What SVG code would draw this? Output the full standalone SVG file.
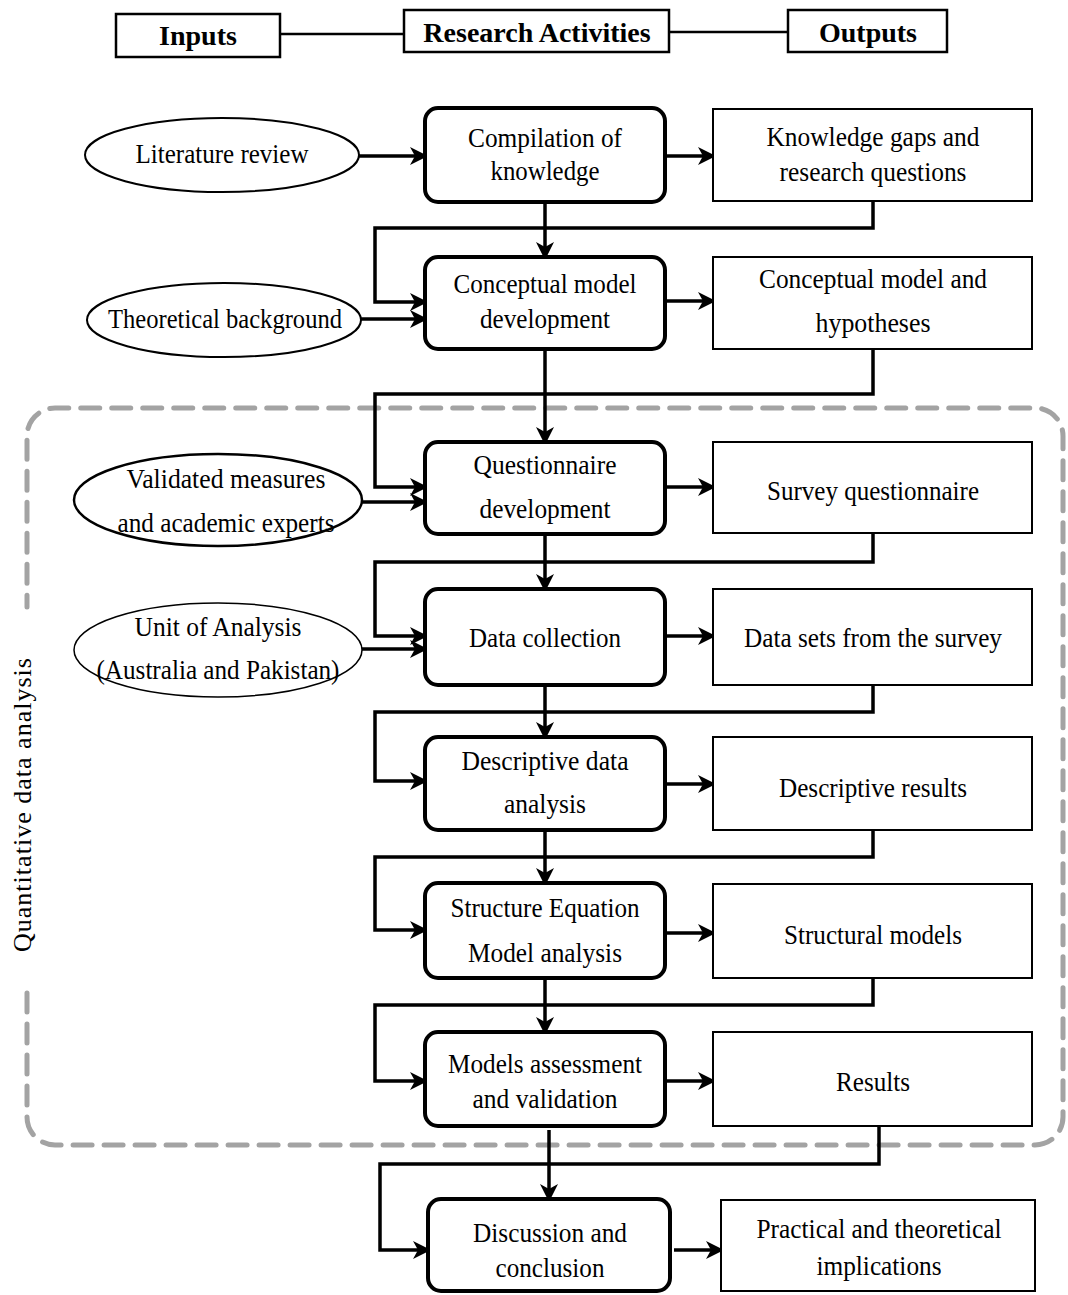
<svg xmlns="http://www.w3.org/2000/svg" width="1068" height="1295" viewBox="0 0 1068 1295">
<defs>
<style>
text{font-family:"Liberation Serif","Times New Roman",serif;font-size:27px;fill:#000;text-anchor:middle}
.hdr{font-weight:bold;font-size:28px}
.hbox{fill:#fff;stroke:#000;stroke-width:2.5}
.act{fill:#fff;stroke:#000;stroke-width:4}
.out{fill:#fff;stroke:#000;stroke-width:2}
.inp{fill:#fff;stroke:#000;stroke-width:2}
.con{fill:none;stroke:#000;stroke-width:3.5;marker-end:url(#ah)}
.hl{fill:none;stroke:#000;stroke-width:2.5}
.dash{fill:none;stroke:#a3a3a3;stroke-width:5;stroke-dasharray:19 12;stroke-linecap:round}
</style>
<marker id="ah" viewBox="-20 -10 22 20" markerWidth="22" markerHeight="20" refX="-3" refY="0" orient="auto" markerUnits="userSpaceOnUse">
<path d="M0,0 L-18,-9 L-13,0 L-18,9 Z" fill="#000"/>
</marker>
</defs>
<rect width="1068" height="1295" fill="#fff"/>

<g id="region">
<path class="dash" d="M27,993 V1117 A28,28 0 0 0 55,1145 H1035 A28,28 0 0 0 1063,1117 V436 A28,28 0 0 0 1035,408 H55 A28,28 0 0 0 27,436 V607"/>
<text transform="translate(31,805) rotate(-90)" style="font-size:26px" textLength="294" lengthAdjust="spacing">Quantitative data analysis</text>
</g>

<g id="header">
<line class="hl" x1="280" y1="34" x2="404" y2="34"/>
<line class="hl" x1="669" y1="32" x2="788" y2="32"/>
<g id="h-inputs"><rect class="hbox" x="116" y="14" width="164" height="43"/><text class="hdr" x="198" y="45">Inputs</text></g>
<g id="h-activities"><rect class="hbox" x="404" y="10" width="265" height="42"/><text class="hdr" x="537" y="42">Research Activities</text></g>
<g id="h-outputs"><rect class="hbox" x="788" y="10" width="159" height="42"/><text class="hdr" x="868" y="42">Outputs</text></g>
</g>

<g id="connectors">
<path class="con" d="M358,156 H425"/>
<path class="con" d="M665,156 H713"/>
<path class="con" d="M545,202 V257"/>
<path class="con" d="M873,201 V228 H375 V302 H425"/>
<path class="con" d="M361,319 H425"/>
<path class="con" d="M665,301 H713"/>
<path class="con" d="M545,349 V442"/>
<path class="con" d="M873,349 V394 H375 V487 H425"/>
<path class="con" d="M362,502 H425"/>
<path class="con" d="M665,487 H713"/>
<path class="con" d="M545,534 V589"/>
<path class="con" d="M873,533 V562 H375 V636 H425"/>
<path class="con" d="M362,649 H425"/>
<path class="con" d="M665,636 H713"/>
<path class="con" d="M545,685 V737"/>
<path class="con" d="M873,685 V712 H375 V781 H425"/>
<path class="con" d="M665,784 H713"/>
<path class="con" d="M545,830 V883"/>
<path class="con" d="M873,830 V857 H375 V930 H425"/>
<path class="con" d="M665,933 H713"/>
<path class="con" d="M545,978 V1032"/>
<path class="con" d="M873,978 V1005 H375 V1081 H425"/>
<path class="con" d="M665,1081 H713"/>
<path class="con" d="M549,1130 V1199"/>
<path class="con" d="M879,1126 V1164 H380 V1250 H428"/>
<path class="con" d="M674,1250 H721"/>
</g>

<g id="n-literature"><ellipse class="inp" cx="222" cy="155" rx="137" ry="37"/><text x="222" y="163" textLength="173" lengthAdjust="spacingAndGlyphs">Literature review</text></g>
<g id="n-theoretical"><ellipse class="inp" cx="224" cy="320" rx="137" ry="37"/><text x="225" y="328" textLength="234" lengthAdjust="spacingAndGlyphs">Theoretical background</text></g>
<g id="n-validated"><ellipse class="inp" style="stroke-width:2.5" cx="218" cy="500" rx="144" ry="46"/><text x="226" y="488" textLength="199" lengthAdjust="spacingAndGlyphs">Validated measures</text><text x="226" y="532" textLength="217" lengthAdjust="spacingAndGlyphs">and academic experts</text></g>
<g id="n-unit"><ellipse class="inp" style="stroke-width:1.5" cx="218" cy="650" rx="144" ry="47"/><text x="218" y="636" textLength="167" lengthAdjust="spacingAndGlyphs">Unit of Analysis</text><text x="218" y="679" textLength="243" lengthAdjust="spacingAndGlyphs">(Australia and Pakistan)</text></g>

<g id="n-compilation"><rect class="act" x="425" y="108" width="240" height="94" rx="13"/><text x="545" y="147" textLength="154" lengthAdjust="spacingAndGlyphs">Compilation of</text><text x="545" y="180" textLength="109" lengthAdjust="spacingAndGlyphs">knowledge</text></g>
<g id="n-conceptual"><rect class="act" x="425" y="257" width="240" height="92" rx="13"/><text x="545" y="293" textLength="183" lengthAdjust="spacingAndGlyphs">Conceptual model</text><text x="545" y="328" textLength="130" lengthAdjust="spacingAndGlyphs">development</text></g>
<g id="n-questionnaire"><rect class="act" x="425" y="442" width="240" height="92" rx="13"/><text x="545" y="474" textLength="143" lengthAdjust="spacingAndGlyphs">Questionnaire</text><text x="545" y="518" textLength="131" lengthAdjust="spacingAndGlyphs">development</text></g>
<g id="n-datacollection"><rect class="act" x="425" y="589" width="240" height="96" rx="13"/><text x="545" y="647" textLength="152" lengthAdjust="spacingAndGlyphs">Data collection</text></g>
<g id="n-descriptive"><rect class="act" x="425" y="737" width="240" height="93" rx="13"/><text x="545" y="770" textLength="167" lengthAdjust="spacingAndGlyphs">Descriptive data</text><text x="545" y="813" textLength="82" lengthAdjust="spacingAndGlyphs">analysis</text></g>
<g id="n-sem"><rect class="act" x="425" y="883" width="240" height="95" rx="13"/><text x="545" y="917" textLength="189" lengthAdjust="spacingAndGlyphs">Structure Equation</text><text x="545" y="962" textLength="154" lengthAdjust="spacingAndGlyphs">Model analysis</text></g>
<g id="n-models"><rect class="act" x="425" y="1032" width="240" height="94" rx="13"/><text x="545" y="1073" textLength="194" lengthAdjust="spacingAndGlyphs">Models assessment</text><text x="545" y="1108" textLength="145" lengthAdjust="spacingAndGlyphs">and validation</text></g>
<g id="n-discussion"><rect class="act" x="428" y="1199" width="242" height="92" rx="13"/><text x="550" y="1242" textLength="154" lengthAdjust="spacingAndGlyphs">Discussion and</text><text x="550" y="1277" textLength="109" lengthAdjust="spacingAndGlyphs">conclusion</text></g>

<g id="o-knowledge"><rect class="out" x="713" y="109" width="319" height="92"/><text x="873" y="146" textLength="213" lengthAdjust="spacingAndGlyphs">Knowledge gaps and</text><text x="873" y="181" textLength="187" lengthAdjust="spacingAndGlyphs">research questions</text></g>
<g id="o-hypotheses"><rect class="out" x="713" y="257" width="319" height="92"/><text x="873" y="288" textLength="228" lengthAdjust="spacingAndGlyphs">Conceptual model and</text><text x="873" y="332" textLength="115" lengthAdjust="spacingAndGlyphs">hypotheses</text></g>
<g id="o-survey"><rect class="out" x="713" y="442" width="319" height="91"/><text x="873" y="500" textLength="212" lengthAdjust="spacingAndGlyphs">Survey questionnaire</text></g>
<g id="o-datasets"><rect class="out" x="713" y="589" width="319" height="96"/><text x="873" y="647" textLength="258" lengthAdjust="spacingAndGlyphs">Data sets from the survey</text></g>
<g id="o-descriptive"><rect class="out" x="713" y="737" width="319" height="93"/><text x="873" y="797" textLength="188" lengthAdjust="spacingAndGlyphs">Descriptive results</text></g>
<g id="o-structural"><rect class="out" x="713" y="884" width="319" height="94"/><text x="873" y="944" textLength="178" lengthAdjust="spacingAndGlyphs">Structural models</text></g>
<g id="o-results"><rect class="out" x="713" y="1032" width="319" height="94"/><text x="873" y="1091" textLength="74" lengthAdjust="spacingAndGlyphs">Results</text></g>
<g id="o-practical"><rect class="out" x="721" y="1200" width="314" height="91"/><text x="879" y="1238" textLength="245" lengthAdjust="spacingAndGlyphs">Practical and theoretical</text><text x="879" y="1275" textLength="125" lengthAdjust="spacingAndGlyphs">implications</text></g>
</svg>
